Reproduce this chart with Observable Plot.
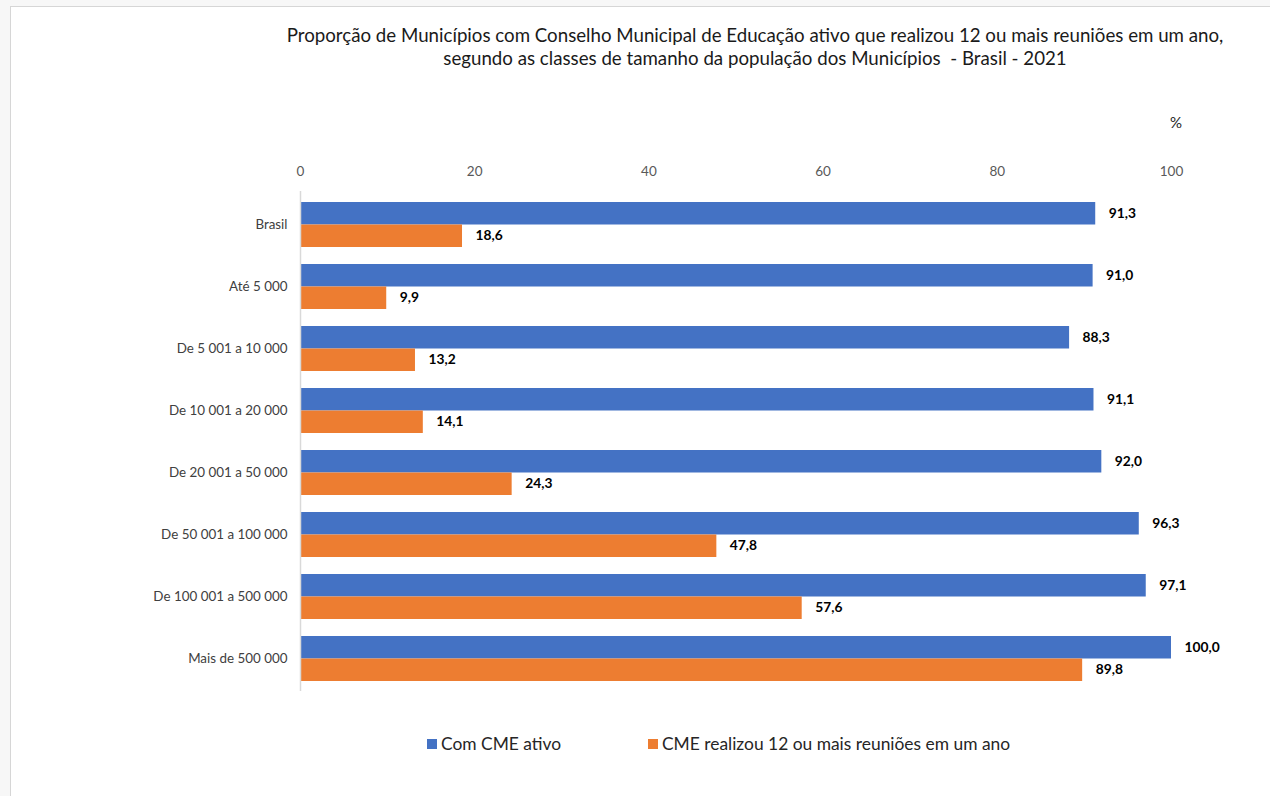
<!DOCTYPE html>
<html>
<head>
<meta charset="utf-8">
<script src="https://cdn.jsdelivr.net/npm/d3@7"></script>
<script src="https://cdn.jsdelivr.net/npm/@observablehq/plot@0.6"></script>
<style>
  html, body { margin: 0; padding: 0; background: #f7f7f7; width: 1270px; height: 796px; overflow: hidden; font-family: Lato, "Open Sans", sans-serif; }
  #panel { position: absolute; left: 10px; top: 6px; width: 1300px; height: 820px; background: #fff; border-left: 1px solid #d6d6d6; border-top: 1px solid #d6d6d6; }
  #chart { position: absolute; left: 0; top: 0; }
  .title { position: absolute; left: 0; width: 1510px; text-align: center; font-size: 18.7px; color: #1a1a1a; white-space: nowrap; }
  .pct { position: absolute; left: 1170px; top: 113px; font-size: 15px; color: #262626; }
  .leg { position: absolute; top: 733px; font-size: 17.4px; color: #262626; white-space: nowrap; }
  .sw { display: inline-block; width: 10px; height: 10px; margin-right: 4px; vertical-align: 1px; }
</style>
</head>
<body>
<div id="panel"></div>
<div id="chart"></div>
<div class="title" style="top:24px">Proporção de Municípios com Conselho Municipal de Educação ativo que realizou 12 ou mais reuniões em um ano,</div>
<div class="title" style="top:47px">segundo as classes de tamanho da população dos Municípios&nbsp; - Brasil - 2021</div>
<div class="pct">%</div>
<div id="legend"></div>
<script>
const categories = ["Brasil", "Até 5 000", "De 5 001 a 10 000", "De 10 001 a 20 000", "De 20 001 a 50 000", "De 50 001 a 100 000", "De 100 001 a 500 000", "Mais de 500 000"];
const seriesNames = ["Com CME ativo", "CME realizou 12 ou mais reuniões em um ano"];
const comCmeAtivo = [91.3, 91.0, 88.3, 91.1, 92.0, 96.3, 97.1, 100.0];
const realizou12 = [18.6, 9.9, 13.2, 14.1, 24.3, 47.8, 57.6, 89.8];
const xTicks = [0, 20, 40, 60, 80, 100];
const colors = ["#4472C4", "#ED7D31"];

const blue = categories.map((c, i) => ({category: c, value: comCmeAtivo[i]}));
const orange = categories.map((c, i) => ({category: c, value: realizou12[i]}));
const fmt = v => d3.format(".1f")(v).replace(".", ",");

const chart = Plot.plot({
  width: 1270,
  height: 796,
  marginLeft: 300,
  marginRight: 99,
  marginTop: 191,
  marginBottom: 105,
  style: {background: "transparent", overflow: "visible", fontFamily: "Lato, 'Open Sans', sans-serif"},
  x: {domain: [0, 100]},
  y: {domain: categories, paddingInner: 0.28, paddingOuter: 0.14},
  marks: [
    Plot.barX(blue, {x: "value", y: "category", fill: colors[0], insetBottom: 22.5}),
    Plot.barX(orange, {x: "value", y: "category", fill: colors[1], insetTop: 22.5}),
    Plot.ruleX([0], {stroke: "#d9d9d9", strokeWidth: 1.5}),
    Plot.text(blue, {x: "value", y: "category", text: d => fmt(d.value), dy: -11, dx: 13, textAnchor: "start", fontWeight: "bold", fontSize: 13.8, fill: "#000"}),
    Plot.text(orange, {x: "value", y: "category", text: d => fmt(d.value), dy: 11, dx: 13, textAnchor: "start", fontWeight: "bold", fontSize: 13.8, fill: "#000"}),
    Plot.axisX({anchor: "top", ticks: xTicks, tickSize: 0, tickPadding: 16, fontSize: 13.5, fill: "#595959", label: null}),
    Plot.axisY({anchor: "left", tickSize: 0, tickPadding: 13, fontSize: 13.4, fill: "#404040", label: null})
  ]
});
document.getElementById("chart").appendChild(chart);

const leg = document.getElementById("legend");
const legX = [427, 648];
seriesNames.forEach((n, i) => {
  const d = document.createElement("div");
  d.className = "leg";
  d.style.left = legX[i] + "px";
  d.innerHTML = `<span class="sw" style="background:${colors[i]}"></span>${n}`;
  leg.appendChild(d);
});
</script>
</body>
</html>
